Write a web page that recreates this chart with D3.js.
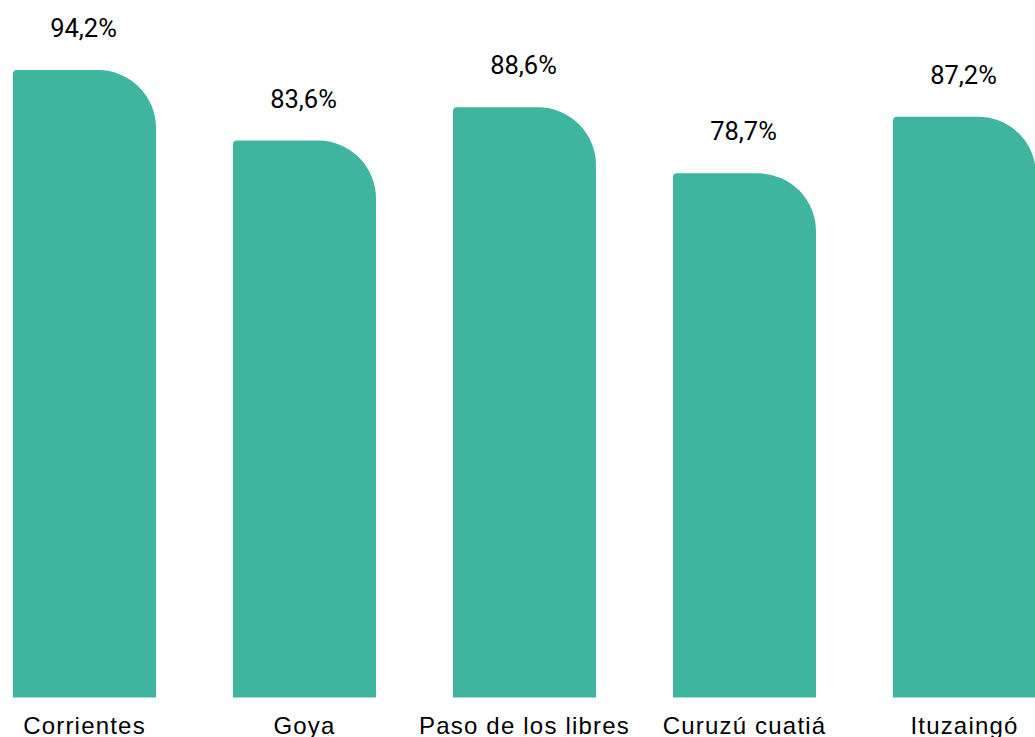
<!DOCTYPE html>
<html>
<head>
<meta charset="utf-8">
<script src="https://cdn.jsdelivr.net/npm/d3@7"></script>
<style>
  html, body { margin: 0; padding: 0; background: #fff; overflow: hidden; }
  svg { display: block; }
</style>
</head>
<body>
<svg id="chart" width="1035" height="737"></svg>
<script>
const categories = ["Corrientes", "Goya", "Paso de los libres", "Curuzú cuatiá", "Ituzaingó"];
const values = [94.2, 83.6, 88.6, 78.7, 87.2];
const valueLabels = ["94,2%", "83,6%", "88,6%", "78,7%", "87,2%"];

const svg = d3.select("#chart");
const baseline = 697.5;

const x = d3.scaleBand()
  .domain(categories)
  .range([-25.5, 1074.5])
  .paddingInner(0.35)
  .paddingOuter(0.175);

const y = d3.scaleLinear()
  .domain([0, 94.2])
  .range([baseline, 70]);

function barPath(x0, w, yTop, yBot, rTL, rTR) {
  const p = d3.path();
  p.moveTo(x0, yBot);
  p.lineTo(x0, yTop + rTL);
  p.arcTo(x0, yTop, x0 + rTL, yTop, rTL);
  p.lineTo(x0 + w - rTR, yTop);
  p.arcTo(x0 + w, yTop, x0 + w, yTop + rTR, rTR);
  p.lineTo(x0 + w, yBot);
  p.closePath();
  return p.toString();
}

const data = categories.map((c, i) => ({ c, v: values[i], lab: valueLabels[i] }));

svg.append("g").selectAll("path")
  .data(data)
  .join("path")
  .attr("d", d => barPath(x(d.c), x.bandwidth(), y(d.v), y(0), 4, 58))
  .attr("fill", "#3FB59F");

svg.append("g").selectAll("text")
  .data(data)
  .join("text")
  .attr("x", d => x(d.c) + x.bandwidth() / 2 - 1)
  .attr("y", d => y(d.v) - 33)
  .attr("text-anchor", "middle")
  .attr("font-family", "Roboto, sans-serif")
  .attr("font-size", 25.5)
  .attr("fill", "#000")
  .text(d => d.lab);

svg.append("g").selectAll("text")
  .data(data)
  .join("text")
  .attr("x", d => x(d.c) + x.bandwidth() / 2)
  .attr("y", 734)
  .attr("text-anchor", "middle")
  .attr("font-family", "'Liberation Sans', Arial, sans-serif")
  .attr("font-size", 24)
  .attr("letter-spacing", 1.2)
  .attr("fill", "#000")
  .text(d => d.c);
</script>
</body>
</html>
